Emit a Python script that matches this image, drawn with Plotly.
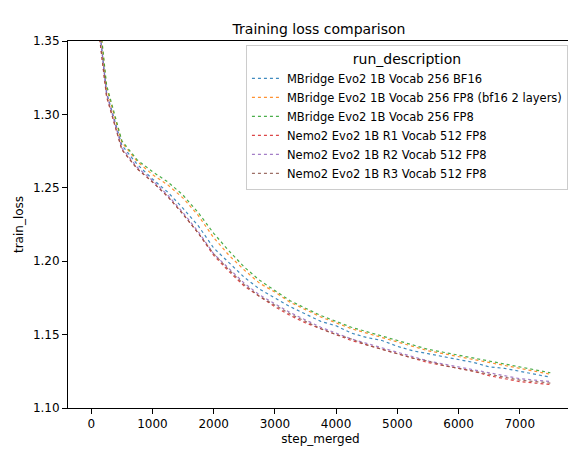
import plotly.graph_objects as go

steps = [0, 250, 500, 750, 1000, 1250, 1500, 1750, 2000, 2250, 2500, 2750, 3000, 3250, 3500,
         3750, 4000, 4250, 4500, 4750, 5000, 5250, 5500, 5750, 6000, 6250, 6500, 6750, 7000, 7250, 7500]

mb_bf16 = [1.41, 1.315, 1.279, 1.266, 1.256, 1.247, 1.236, 1.224, 1.209, 1.199, 1.189, 1.181, 1.175, 1.169, 1.164,
           1.159, 1.156, 1.151, 1.148, 1.146, 1.142, 1.139, 1.137, 1.135, 1.133, 1.131, 1.128, 1.127, 1.125, 1.123, 1.121]
mb_fp8_bf16 = [1.42, 1.318, 1.281, 1.268, 1.259, 1.252, 1.243, 1.231, 1.216, 1.204, 1.194, 1.185, 1.179, 1.172, 1.167,
               1.162, 1.158, 1.154, 1.151, 1.148, 1.145, 1.142, 1.139, 1.137, 1.135, 1.133, 1.131, 1.129, 1.127, 1.125, 1.123]
mb_fp8 = [1.42, 1.320, 1.282, 1.269, 1.261, 1.254, 1.245, 1.233, 1.219, 1.207, 1.196, 1.187, 1.180, 1.173, 1.168,
          1.163, 1.159, 1.155, 1.152, 1.149, 1.146, 1.143, 1.140, 1.138, 1.136, 1.134, 1.132, 1.130, 1.128, 1.126, 1.124]
nemo_r1 = [1.40, 1.312, 1.276, 1.263, 1.254, 1.244, 1.232, 1.219, 1.204, 1.193, 1.183, 1.176, 1.169, 1.163, 1.158,
           1.154, 1.150, 1.146, 1.143, 1.140, 1.137, 1.134, 1.131, 1.129, 1.127, 1.125, 1.122, 1.120, 1.118, 1.117, 1.116]
nemo_r2 = [1.41, 1.314, 1.277, 1.264, 1.255, 1.245, 1.233, 1.220, 1.205, 1.195, 1.185, 1.177, 1.171, 1.165, 1.160,
           1.155, 1.151, 1.147, 1.144, 1.141, 1.138, 1.135, 1.132, 1.130, 1.128, 1.126, 1.124, 1.122, 1.120, 1.119, 1.118]
nemo_r3 = [1.40, 1.313, 1.276, 1.263, 1.254, 1.244, 1.232, 1.219, 1.205, 1.194, 1.184, 1.176, 1.170, 1.164, 1.159,
           1.154, 1.150, 1.147, 1.143, 1.140, 1.137, 1.134, 1.132, 1.129, 1.127, 1.125, 1.123, 1.121, 1.119, 1.118, 1.117]

names = ["MBridge Evo2 1B Vocab 256 BF16", "MBridge Evo2 1B Vocab 256 FP8 (bf16 2 layers)",
         "MBridge Evo2 1B Vocab 256 FP8", "Nemo2 Evo2 1B R1 Vocab 512 FP8",
         "Nemo2 Evo2 1B R2 Vocab 512 FP8", "Nemo2 Evo2 1B R3 Vocab 512 FP8"]
series = [mb_bf16, mb_fp8_bf16, mb_fp8, nemo_r1, nemo_r2, nemo_r3]
colors = ["#1f77b4", "#ff7f0e", "#2ca02c", "#d62728", "#9467bd", "#8c564b"]

fig = go.Figure()
for name, vals, c in zip(names, series, colors):
    fig.add_trace(go.Scatter(x=steps, y=vals, name=name, mode="lines",
                             line=dict(color=c, width=1.2, dash="dot"), opacity=0.85))

axis = dict(showgrid=False, zeroline=False, showline=True, linecolor="black", mirror=True,
            ticks="outside", tickcolor="black", tickfont=dict(size=12, color="black"))
fig.update_layout(
    width=576, height=455, plot_bgcolor="white", paper_bgcolor="white",
    font=dict(family="DejaVu Sans", size=11, color="black"),
    margin=dict(l=57, r=10, t=33, b=55),
    title=dict(text="Training loss comparison", x=0.54, y=0.965, xanchor="center", font=dict(size=14)),
    xaxis=dict(axis, title=dict(text="step_merged", font=dict(size=12), standoff=4), range=[-380, 7870],
               tickvals=list(range(0, 8000, 1000))),
    yaxis=dict(axis, title=dict(text="train_loss", font=dict(size=12), standoff=6), range=[1.10, 1.35],
               tickvals=[1.10, 1.15, 1.20, 1.25, 1.30, 1.35], tickformat=".2f"),
    legend=dict(title=dict(text="run_description", side="top center"), x=0.99, y=0.99,
                xanchor="right", yanchor="top", bgcolor="rgba(255,255,255,0.8)",
                bordercolor="#cccccc", borderwidth=1, font=dict(size=11.5)),
)
fig.write_html("out.html")
